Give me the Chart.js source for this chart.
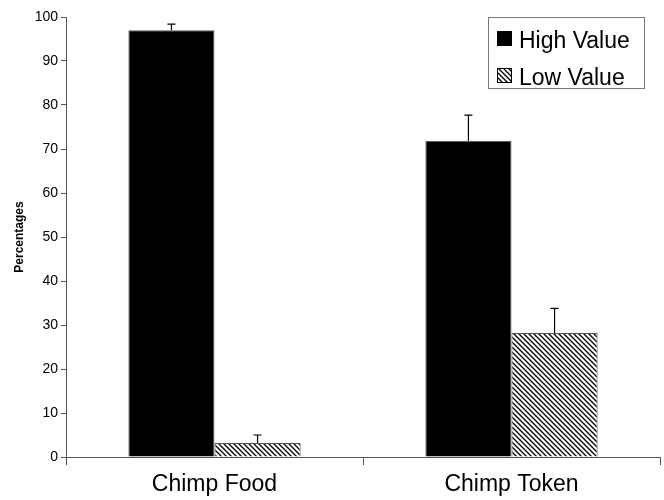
<!DOCTYPE html>
<html>
<head>
<meta charset="utf-8">
<script src="https://cdn.jsdelivr.net/npm/chart.js@4"></script>
<style>
  html, body { margin: 0; padding: 0; background: #fff; }
  #wrap { width: 664px; height: 500px; }
</style>
</head>
<body>
<div id="wrap"><canvas id="chart" width="664" height="500"></canvas></div>
<script>
const categories = ['Chimp Food', 'Chimp Token'];
const seriesNames = ['High Value', 'Low Value'];
const highValues = [97.0, 71.9];
const lowValues = [3.2, 28.2];
const highErrors = [1.4, 5.8];
const lowErrors = [1.8, 5.6];
const yTicks = [0, 10, 20, 30, 40, 50, 60, 70, 80, 90, 100];

// diagonal hatch like the old Excel fill
function makeHatch() {
    const c = document.createElement('canvas');
    c.width = 5; c.height = 5;
    const g = c.getContext('2d');
    g.fillStyle = '#fff';
    g.fillRect(0, 0, 5, 5);
    g.strokeStyle = '#000';
    g.lineWidth = 1.3;
    g.beginPath();
    g.moveTo(-1, -1); g.lineTo(6, 6);
    g.moveTo(-1, 4); g.lineTo(1, 6);
    g.moveTo(4, -1); g.lineTo(6, 1);
    g.stroke();
    return document.getElementById('chart').getContext('2d').createPattern(c, 'repeat');
}
const hatch = makeHatch();

const errorBars = {
    id: 'errorBars',
    afterDatasetsDraw(chart) {
        const ctx = chart.ctx;
        const y = chart.scales.y;
        ctx.save();
        ctx.strokeStyle = '#000';
        ctx.lineWidth = 1.2;
        chart.data.datasets.forEach((ds, i) => {
            const meta = chart.getDatasetMeta(i);
            meta.data.forEach((bar, j) => {
                const top = y.getPixelForValue(ds.data[j] + ds.errors[j]);
                ctx.beginPath();
                ctx.moveTo(bar.x, bar.y);
                ctx.lineTo(bar.x, top);
                ctx.moveTo(bar.x - 4, top);
                ctx.lineTo(bar.x + 4, top);
                ctx.stroke();
            });
        });
        ctx.restore();
    }
};

const boxLegend = {
    id: 'boxLegend',
    afterDraw(chart) {
        const ctx = chart.ctx;
        ctx.save();
        ctx.fillStyle = '#fff';
        ctx.fillRect(488, 17, 156, 71);
        ctx.strokeStyle = '#777';
        ctx.lineWidth = 1;
        ctx.strokeRect(488.5, 17.5, 156, 71);
        ctx.font = '23px Arial, "Liberation Sans", sans-serif';
        ctx.textBaseline = 'alphabetic';
        chart.data.datasets.forEach((ds, i) => {
            const top = 31 + i * 37;
            ctx.fillStyle = ds.backgroundColor;
            ctx.fillRect(497, top, 15, 15);
            ctx.strokeStyle = '#000';
            ctx.strokeRect(497.5, top + 0.5, 14, 14);
            ctx.fillStyle = '#000';
            ctx.fillText(ds.label, 519, top + 17);
        });
        ctx.restore();
    }
};

new Chart(document.getElementById('chart'), {
    type: 'bar',
    data: {
        labels: categories,
        datasets: [
            {
                label: seriesNames[0],
                data: highValues,
                errors: highErrors,
                backgroundColor: '#000',
                borderColor: '#555',
                borderWidth: 1,
                categoryPercentage: 0.58,
                barPercentage: 1.0
            },
            {
                label: seriesNames[1],
                data: lowValues,
                errors: lowErrors,
                backgroundColor: hatch,
                borderColor: '#555',
                borderWidth: 1,
                categoryPercentage: 0.58,
                barPercentage: 1.0
            }
        ]
    },
    options: {
        responsive: false,
        animation: false,
        layout: { padding: { top: 17, right: 4, left: 0, bottom: 0 } },
        plugins: {
            legend: { display: false },
            tooltip: { enabled: false }
        },
        scales: {
            x: {
                grid: { display: true, drawOnChartArea: false, drawTicks: true, tickLength: 8, color: '#555', offset: true },
                border: { color: '#555', width: 1 },
                ticks: { color: '#000', padding: 6, font: { family: 'Arial, "Liberation Sans", sans-serif', size: 23 } },
                afterFit(s) { s.height = 43; }
            },
            y: {
                min: 0,
                max: 100,
                afterBuildTicks(s) { s.ticks = yTicks.map(v => ({ value: v })); },
                grid: { display: true, drawOnChartArea: false, drawTicks: true, tickLength: 5, color: '#555' },
                border: { color: '#555', width: 1 },
                ticks: { color: '#000', padding: 3, font: { family: 'Arial, "Liberation Sans", sans-serif', size: 14 } },
                title: {
                    display: true,
                    text: 'Percentages',
                    color: '#000',
                    padding: { top: 12, bottom: 0 },
                    font: { family: 'Arial, "Liberation Sans", sans-serif', size: 12, weight: 'bold' }
                },
                afterFit(s) { s.width = 66; }
            }
        }
    },
    plugins: [errorBars, boxLegend]
});
</script>
</body>
</html>
